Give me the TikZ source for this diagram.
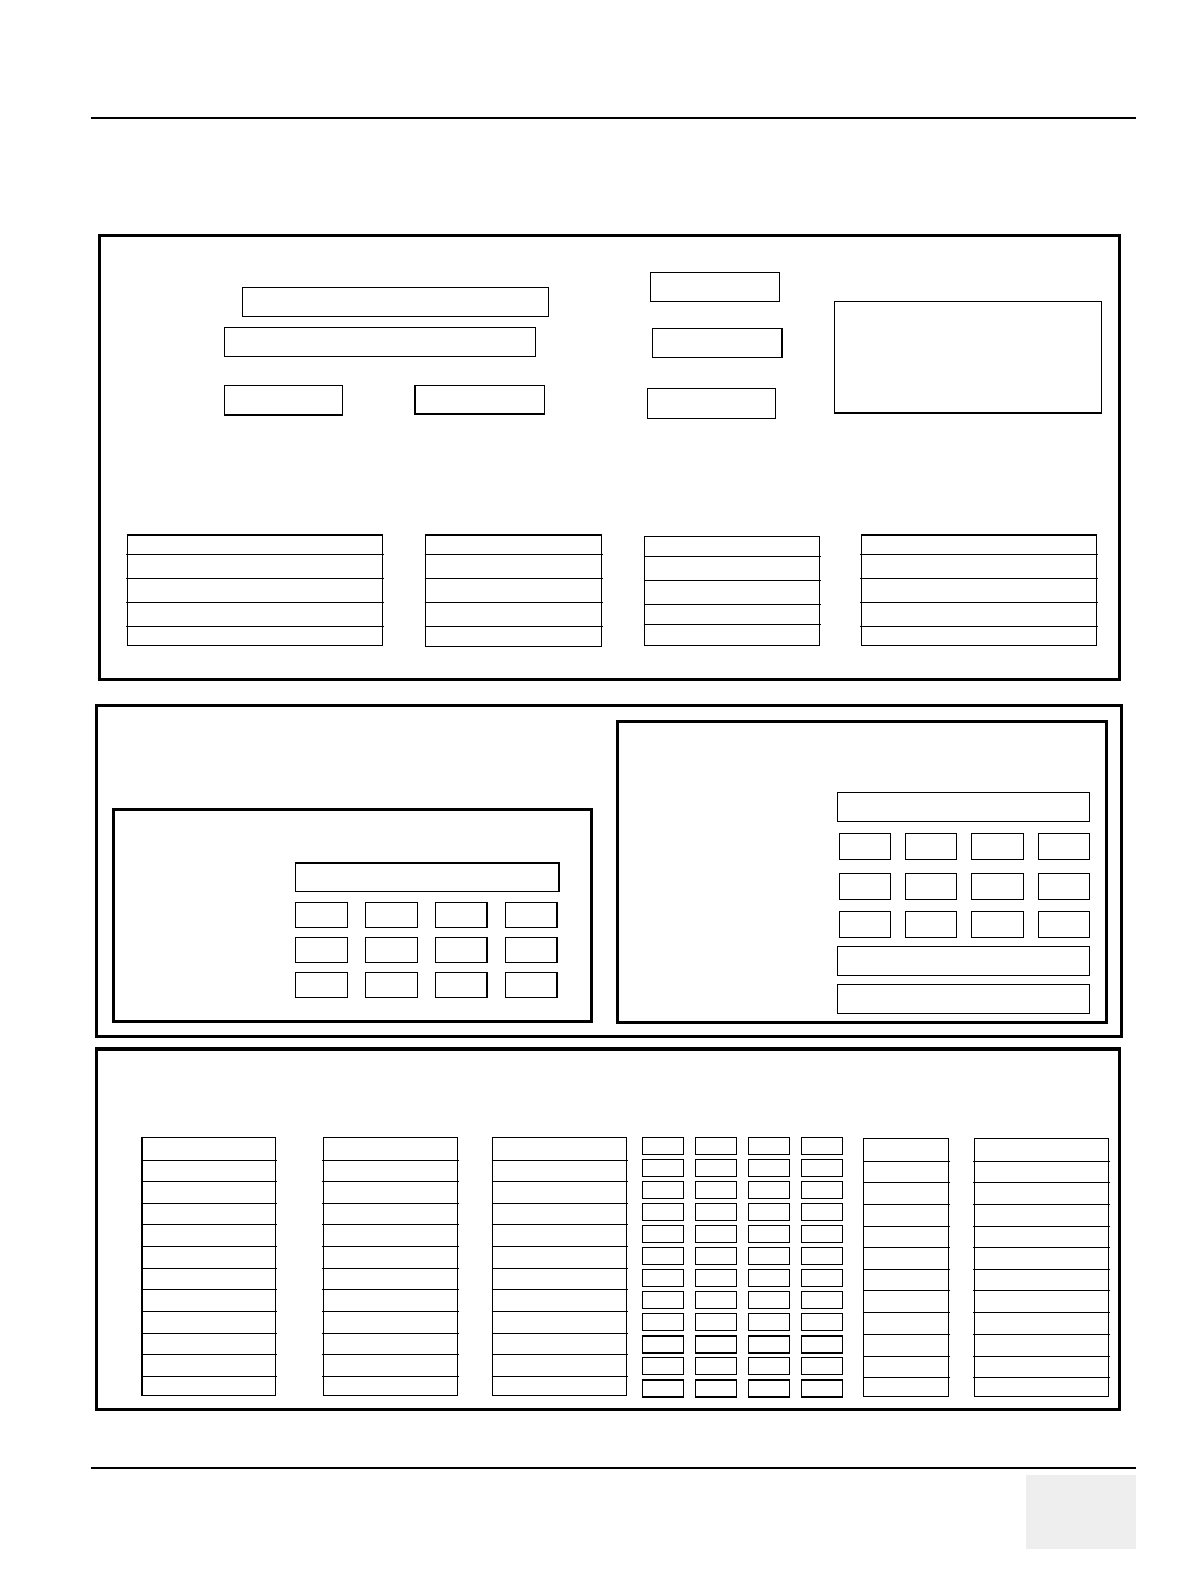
\documentclass[tikz,border=0pt]{standalone}
\usepackage{tikz}
\definecolor{pagegray}{HTML}{EEEEEE}
\tikzset{
  thinbox/.style={draw=black,line width=0.7pt},
  frame/.style={draw=black,line width=1.5pt},
  rule/.style={draw=black,line width=0.7pt},
}
\newcommand\bx[4]{\draw[thinbox] (#1,#2) rectangle (#3,#4);}
\newcommand\tbl[5]{\draw[thinbox] (#1,#3) rectangle (#2,#4);
  \foreach \yy in {#5} {\draw[thinbox] (#1-1,\yy) -- (#2+1.5,\yy);}}
\begin{document}
\begin{tikzpicture}[x=0.5pt,y=-0.5pt]
\useasboundingbox[fill=white] (0,0) rectangle (1178,1568);
% header / footer
\coordinate (hl) at (90,117); \coordinate (hr) at (1125,117);
\draw[rule] (hl) -- (hr);
\coordinate (fl) at (90,1453); \coordinate (fr) at (1125,1453);
\draw[rule] (fl) -- (fr);
\fill[pagegray] (1016,1460) rectangle (1125,1533);
% ---------------- frame 1
\draw[frame] (98.5,233.5) rectangle (1108,673);
\bx{240}{284.5}{543}{313.5}
\bx{222}{324}{530}{352.8}
\bx{222}{381.5}{339}{411}
\bx{411}{381.5}{539}{410}
\bx{643.8}{269.6}{771.9}{298.3}
\bx{645.8}{325}{773.9}{353.7}
\bx{640.8}{384.4}{767.9}{414}
\bx{826}{298.3}{1090.5}{409}
\tbl{126}{378.5}{529.6}{639}{548.8,572.6,596.3,620.1}
\tbl{421.4}{595.2}{529.6}{640}{548.8,572.6,596.3,620.1}
\tbl{638}{811}{531}{638.8}{550.7,574.5,598.2,618}
\tbl{852.7}{1085.5}{529.6}{639}{548.8,572.6,596.3,620.1}
% ---------------- frame 2
\draw[frame] (95.5,698.3) rectangle (1110,1025.6);
\draw[frame] (112.2,801.3) rectangle (585.7,1011.5);
\bx{292.4}{854.1}{553.2}{882.5}
\foreach \xa/\xb in {292.4/343.8,361.7/413.2,431/481.9,500.3/551.2}{
  \foreach \ya/\yb in {893.4/918.1,928/952.8,962.7/987.4}{
    \draw[thinbox] (\xa,\ya) rectangle (\xb,\yb);}}
\draw[frame] (611.2,714.5) rectangle (1095.7,1012.2);
\bx{829}{784.5}{1078.5}{813.2}
\foreach \xa/\xb in {831/881.5,896.3/946.8,961.7/1013.2,1028/1078.5}{
  \foreach \ya/\yb in {825/850.8,864.7/890.4,902.3/928}{
    \draw[thinbox] (\xa,\ya) rectangle (\xb,\yb);}}
\bx{829}{937}{1078.5}{965.6}
\bx{829}{974.6}{1078.5}{1003.3}
% ---------------- frame 3
\draw[frame] (95.4,1038.4) rectangle (1107.8,1394.8);
\tbl{140.4}{272.6}{1126}{1381.5}{1148.7,1169.5,1191.3,1212.1,1233.8,1255.6,1276.4,1298.2,1320,1340.8,1362.5}
\tbl{320}{452.9}{1126}{1381.5}{1148.7,1169.5,1191.3,1212.1,1233.8,1255.6,1276.4,1298.2,1320,1340.8,1362.5}
\tbl{487.6}{620.1}{1126}{1381.5}{1148.7,1169.5,1191.3,1212.1,1233.8,1255.6,1276.4,1298.2,1320,1340.8,1362.5}
\foreach \xa/\xb in {635.9/676.5,688.4/728.9,740.8/781.5,793.3/833.9}{
  \foreach \ya in {1125.9,1147.7,1169.5,1191.3,1213.1,1234.8,1256.6,1278.4,1300.2,1322.6,1343.7,1366.2}{
    \draw[thinbox] (\xa,\ya) rectangle (\xb,\ya+16.8);}}
\tbl{855}{938.8}{1127}{1382.3}{1149.7,1170.5,1192.3,1214,1234.8,1256.6,1277.4,1299.2,1321,1342.7,1363.5}
\tbl{964.6}{1097.3}{1127}{1382.3}{1149.7,1170.5,1192.3,1214,1234.8,1256.6,1277.4,1299.2,1321,1342.7,1363.5}
\end{tikzpicture}
\end{document}
